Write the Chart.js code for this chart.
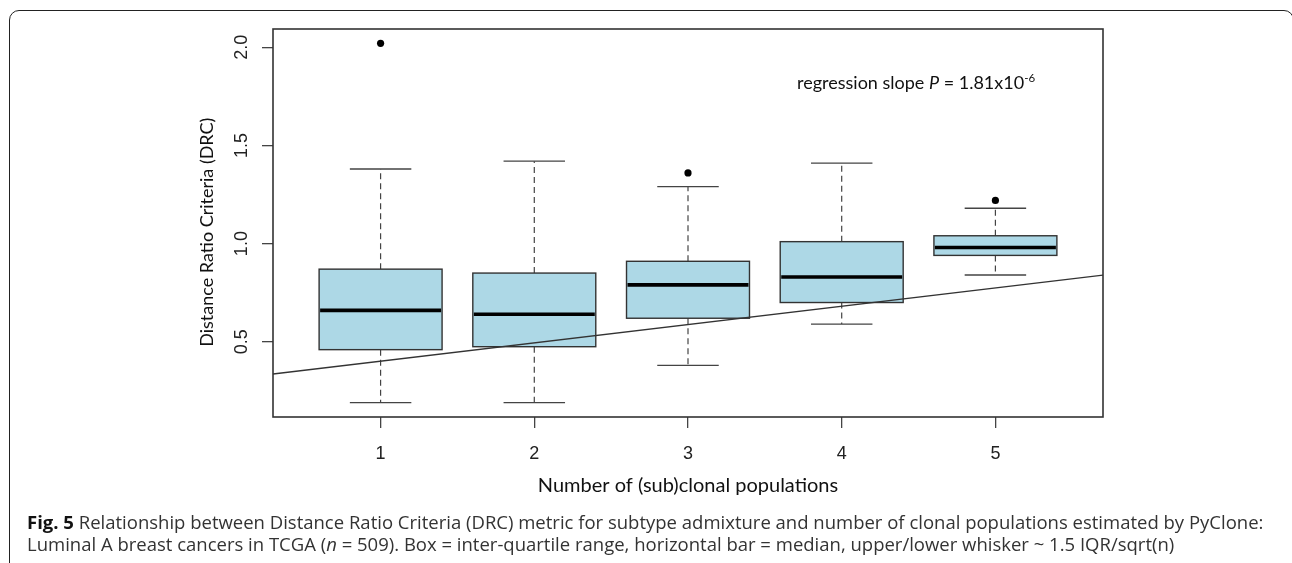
<!DOCTYPE html>
<html lang="en">
<head>
<meta charset="UTF-8">
<title>Fig. 5 DRC vs clonal populations</title>
<style>
  html, body { margin: 0; padding: 0; background: #fff; overflow: hidden; }
  #page { position: relative; width: 1292px; height: 563px; overflow: hidden; }
  #frame { position: absolute; left: 9px; top: 10px; width: 1285px; height: 700px;
           border: 1.6px solid #222; border-radius: 10px; box-sizing: border-box; }
  #chart { position: absolute; left: 0; top: 0; }
  #note { position: absolute; left: 797px; top: 71px; font-family: Lato, sans-serif;
          font-size: 18px; color: #111; white-space: nowrap; }
  #note sup { font-size: 11.5px; vertical-align: 7px; line-height: 0; }
  .cap { position: absolute; left: 27px; font-family: "Open Sans", sans-serif; font-size: 18.5px;
         line-height: 21.7px; color: #333; white-space: nowrap; }
  .cap b { color: #111; }
</style>
</head>
<body>
<div id="page">
  <div id="frame"></div>
  <canvas id="chart" width="1292" height="563"></canvas>
  <div id="note">regression slope <i>P</i> = 1.81x10<sup>-6</sup></div>
  <div class="cap" style="top:511px"><b>Fig. 5</b> Relationship between Distance Ratio Criteria (DRC) metric for subtype admixture and number of clonal populations estimated by PyClone:</div>
  <div class="cap" style="top:533px">Luminal A breast cancers in TCGA (<i>n</i> = 509). Box = inter-quartile range, horizontal bar = median, upper/lower whisker ~ 1.5 IQR/sqrt(n)</div>
</div>
<script src="https://cdn.jsdelivr.net/npm/chart.js"></script>
<script>
    // values
    const groups = [1, 2, 3, 4, 5];
    const groupLabels = ['1', '2', '3', '4', '5'];
    const whiskerLow = [0.19, 0.19, 0.38, 0.59, 0.84];
    const q1 = [0.46, 0.475, 0.62, 0.70, 0.94];
    const median = [0.66, 0.64, 0.79, 0.83, 0.98];
    const q3 = [0.87, 0.85, 0.91, 1.01, 1.04];
    const whiskerHigh = [1.38, 1.42, 1.29, 1.41, 1.18];
    const outlierGroup = [1, 3, 5];
    const outlierValue = [2.02, 1.36, 1.22];
    const regIntercept = 0.308;
    const regSlope = 0.0933;
    const yTickValues = [0.5, 1.0, 1.5, 2.0];

    // axis limits (R style: data range + 4%)
    const xMin = 0.3, xMax = 5.7;
    const yMin = 0.117, yMax = 2.093;

    const boxWidth = 0.8;
    const stapleWidth = 0.4;

    // boxes, whiskers and medians drawn through the chart scales
    const boxPlot = {
        id: 'boxPlot',
        beforeDatasetsDraw(chart) {
            const ctx = chart.ctx;
            const x = chart.scales.x;
            const y = chart.scales.y;
            ctx.save();
            for (let i = 0; i < groups.length; i++) {
                const cx = x.getPixelForValue(groups[i]);
                const bl = x.getPixelForValue(groups[i] - boxWidth / 2);
                const br = x.getPixelForValue(groups[i] + boxWidth / 2);
                const sl = x.getPixelForValue(groups[i] - stapleWidth / 2);
                const sr = x.getPixelForValue(groups[i] + stapleWidth / 2);
                const yLo = y.getPixelForValue(whiskerLow[i]);
                const yQ1 = y.getPixelForValue(q1[i]);
                const yMed = y.getPixelForValue(median[i]);
                const yQ3 = y.getPixelForValue(q3[i]);
                const yHi = y.getPixelForValue(whiskerHigh[i]);

                // dashed whiskers
                ctx.strokeStyle = '#444';
                ctx.lineWidth = 1.2;
                ctx.setLineDash([6, 4]);
                ctx.beginPath();
                ctx.moveTo(cx, yQ3); ctx.lineTo(cx, yHi);
                ctx.moveTo(cx, yQ1); ctx.lineTo(cx, yLo);
                ctx.stroke();
                ctx.setLineDash([]);

                // staples
                ctx.lineWidth = 1.4;
                ctx.beginPath();
                ctx.moveTo(sl, yHi); ctx.lineTo(sr, yHi);
                ctx.moveTo(sl, yLo); ctx.lineTo(sr, yLo);
                ctx.stroke();

                // box
                ctx.fillStyle = '#add8e6';
                ctx.fillRect(bl, yQ3, br - bl, yQ1 - yQ3);
                ctx.strokeStyle = '#333';
                ctx.lineWidth = 1.4;
                ctx.strokeRect(bl, yQ3, br - bl, yQ1 - yQ3);

                // median
                ctx.strokeStyle = '#000';
                ctx.lineWidth = 3.6;
                ctx.beginPath();
                ctx.moveTo(bl + 1, yMed); ctx.lineTo(br - 1, yMed);
                ctx.stroke();
            }
            ctx.restore();
        },
        afterDraw(chart) {
            const {ctx, chartArea} = chart;
            ctx.save();
            ctx.strokeStyle = '#333';
            ctx.lineWidth = 1.6;
            ctx.strokeRect(chartArea.left, chartArea.top, chartArea.right - chartArea.left, chartArea.bottom - chartArea.top);
            ctx.restore();
        }
    };

    let outlierPoints = [];
    for (let i = 0; i < outlierGroup.length; i++) {
        outlierPoints.push({x: outlierGroup[i], y: outlierValue[i]});
    }
    const regPoints = [
        {x: xMin, y: regIntercept + regSlope * xMin},
        {x: xMax, y: regIntercept + regSlope * xMax}
    ];

    const tickFont = {family: "'Liberation Sans', Arial, sans-serif", size: 18};

    const drcChart = new Chart(document.getElementById('chart'), {
        type: 'scatter',
        data: {
            datasets: [{
                label: 'regression',
                type: 'line',
                data: regPoints,
                borderColor: '#333',
                borderWidth: 1.3,
                pointRadius: 0,
                fill: false
            }, {
                label: 'outliers',
                data: outlierPoints,
                backgroundColor: '#000',
                borderColor: '#000',
                pointRadius: 3.6,
                borderWidth: 0
            }]
        },
        options: {
            responsive: false,
            animation: false,
            layout: {padding: {left: 0, top: 29, right: 189, bottom: 0}},
            plugins: {legend: {display: false}, tooltip: {enabled: false}},
            scales: {
                x: {
                    type: 'linear',
                    min: xMin,
                    max: xMax,
                    afterFit: (s) => { s.height = 146; },
                    grid: {display: true, drawOnChartArea: false, drawTicks: true, tickLength: 11, color: '#444', lineWidth: 1.3},
                    border: {display: false},
                    ticks: {
                        stepSize: 1,
                        includeBounds: false,
                        padding: 15,
                        color: '#222',
                        font: tickFont,
                        callback: (v) => groupLabels[groups.indexOf(v)]
                    },
                    title: {
                        display: true,
                        text: 'Number of (sub)clonal populations',
                        color: '#111',
                        font: {family: 'Lato, sans-serif', size: 20},
                        padding: {top: 0, bottom: 65}
                    }
                },
                y: {
                    type: 'linear',
                    min: yMin,
                    max: yMax,
                    afterFit: (s) => { s.width = 273; },
                    grid: {display: true, drawOnChartArea: false, drawTicks: true, tickLength: 11, color: '#444', lineWidth: 1.3},
                    border: {display: false},
                    afterBuildTicks: (s) => { s.ticks = yTickValues.map(v => ({value: v})); },
                    ticks: {
                        minRotation: 90,
                        maxRotation: 90,
                        crossAlign: 'center',
                        padding: 7.5,
                        color: '#222',
                        font: tickFont,
                        callback: (v) => v.toFixed(1)
                    },
                    title: {
                        display: true,
                        // trailing spaces push the text a little below the axis centre, as in the figure
                        text: 'Distance Ratio Criteria (DRC)\u00A0\u00A0\u00A0\u00A0',
                        color: '#111',
                        font: {family: 'Lato, sans-serif', size: 18},
                        padding: {top: 196, bottom: 0}
                    }
                }
            }
        },
        plugins: [boxPlot]
    });
</script>
</body>
</html>
